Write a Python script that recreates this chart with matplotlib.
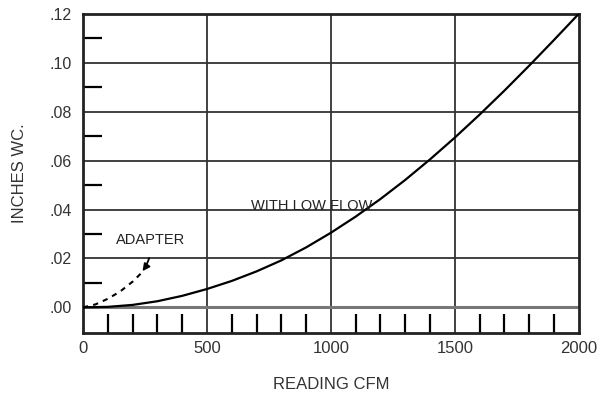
import numpy as np
import matplotlib
matplotlib.use("Agg")
import matplotlib.pyplot as plt

plt.rcParams['font.family'] = ['Liberation Sans', 'DejaVu Sans']

# main curve (with low flow)
cfm = [0, 100, 200, 300, 400, 500, 600, 700, 800, 900, 1000,
       1100, 1200, 1300, 1400, 1500, 1600, 1700, 1800, 1900, 2000]
wc = [0.0, 0.0002, 0.0010, 0.0025, 0.0047, 0.0075, 0.0108, 0.0147, 0.0192, 0.0245, 0.0305,
      0.0371, 0.0443, 0.0521, 0.0605, 0.0694, 0.0788, 0.0886, 0.0988, 0.1093, 0.1200]

# dashed curve (adapter)
cfm_adapter = [0, 50, 100, 150, 200, 240]
wc_adapter = [0.0, 0.0012, 0.0035, 0.0065, 0.0105, 0.0145]

x_labels = ['0', '500', '1000', '1500', '2000']
y_labels = ['.00', '.02', '.04', '.06', '.08', '.10', '.12']

fig = plt.figure(figsize=(6.06, 3.96), dpi=100)
ax = fig.add_axes([0.137, 0.159, 0.818, 0.806])

ax.set_xlim(0, 2000)
ax.set_ylim(-0.0105, 0.12)

# grid
for xv in [500, 1000, 1500]:
    ax.axvline(xv, color='#333333', lw=1.3, zorder=1)
for yv in [0.02, 0.04, 0.06, 0.08, 0.10]:
    ax.axhline(yv, color='#333333', lw=1.3, zorder=1)
ax.axhline(0.0, color='#777777', lw=2.2, zorder=1)

ax.plot(cfm, wc, color='black', lw=1.6, zorder=3)
ax.plot(cfm_adapter, wc_adapter, color='black', lw=1.5, ls=(0, (2.5, 2.5)), zorder=3)

ax.set_xticks([0, 500, 1000, 1500, 2000])
ax.set_xticklabels(x_labels)
ax.set_yticks([0, 0.02, 0.04, 0.06, 0.08, 0.10, 0.12])
ax.set_yticklabels(y_labels)
ax.tick_params(axis='both', length=0, colors='#333333')
ax.tick_params(axis='x', labelsize=12, pad=6)
ax.tick_params(axis='y', labelsize=11.5, pad=8)

ax.set_xticks([v for v in range(100, 2000, 100) if v % 500 != 0], minor=True)
ax.set_yticks([0.01, 0.03, 0.05, 0.07, 0.09, 0.11], minor=True)
ax.tick_params(which='minor', direction='in', length=14, width=1.6, color='black')

for s in ax.spines.values():
    s.set_linewidth(2)
    s.set_color('#222222')

ax.text(678, 0.0416, 'WITH LOW FLOW', fontsize=10.5, color='#222222', va='center')
ax.annotate('ADAPTER', xy=(240, 0.0148), xytext=(272, 0.0275),
            fontsize=10.5, color='#222222', ha='center', va='center',
            arrowprops=dict(arrowstyle='-|>', color='black', lw=1.3,
                            connectionstyle='arc3,rad=-0.2', shrinkA=6, shrinkB=0))

ax.set_xlabel('READING CFM', fontsize=12, color='#333333', labelpad=15)
ax.set_ylabel('INCHES WC.', fontsize=12, color='#333333', labelpad=16)

fig.savefig('out.png', dpi=100)
